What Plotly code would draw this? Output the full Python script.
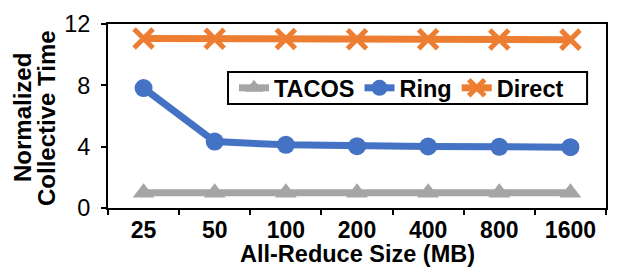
import plotly.graph_objects as go

sizes = ["25", "50", "100", "200", "400", "800", "1600"]
tacos = [1.0, 1.0, 1.0, 1.0, 1.0, 1.0, 1.0]
ring = [7.82, 4.33, 4.12, 4.03, 4.01, 3.99, 3.97]
direct = [11.05, 11.04, 11.02, 11.0, 11.0, 10.99, 10.98]

x_title = "All-Reduce Size (MB)"
y_title_lines = ["Normalized", "Collective Time"]

FAM = "Liberation Sans, Arial"
FS = 23.5

fig = go.Figure()
fig.add_trace(go.Scatter(x=sizes, y=tacos, name="<b>TACOS</b>", mode="lines+markers",
                         line=dict(color="#A5A5A5", width=7),
                         marker=dict(symbol="triangle-up", size=19, color="#A5A5A5")))
fig.add_trace(go.Scatter(x=sizes, y=ring, name="<b>Ring</b>", mode="lines+markers",
                         line=dict(color="#4472C4", width=7),
                         marker=dict(symbol="circle", size=18, color="#4472C4")))
fig.add_trace(go.Scatter(x=sizes, y=direct, name="<b>Direct</b>", mode="lines+markers",
                         line=dict(color="#ED7D31", width=7),
                         marker=dict(symbol="x-thin", size=19, color="#ED7D31",
                                     line=dict(color="#ED7D31", width=5))))

annotations = [
    dict(text=f"<b>{x_title}</b>", xref="paper", yref="paper", x=0.5, y=0,
         yshift=-61, xanchor="center", yanchor="bottom", showarrow=False,
         font=dict(family=FAM, size=23.5, color="black")),
    dict(text=f"<b>{y_title_lines[0]}</b>", xref="paper", yref="paper", x=0, y=0.5,
         xshift=-86, yshift=-2, xanchor="center", yanchor="middle", showarrow=False,
         textangle=-90, font=dict(family=FAM, size=24, color="black")),
    dict(text=f"<b>{y_title_lines[1]}</b>", xref="paper", yref="paper", x=0, y=0.5,
         xshift=-62, yshift=-2, xanchor="center", yanchor="middle", showarrow=False,
         textangle=-90, font=dict(family=FAM, size=24, color="black")),
]

fig.update_layout(
    width=623, height=270,
    margin=dict(l=100, r=25, t=16, b=70),
    paper_bgcolor="white", plot_bgcolor="white",
    font=dict(family=FAM, size=FS, color="black"),
    showlegend=True,
    legend=dict(orientation="h", x=0.253, y=0.652, xanchor="left", yanchor="middle",
                borderwidth=0, bgcolor="rgba(0,0,0,0)",
                font=dict(family=FAM, size=FS, color="black"),
                itemwidth=30, tracegroupgap=0),
    annotations=annotations,
    shapes=[dict(type="rect", xref="paper", yref="paper",
                 x0=0.241, x1=0.962, y0=0.565, y1=0.739,
                 line=dict(color="black", width=2), fillcolor="white", layer="below")],
)
fig.update_xaxes(
    type="category", range=[-0.5, 6.5], automargin=False,
    showline=True, linecolor="black", linewidth=2, mirror=True,
    ticks="outside", tickson="boundaries", ticklen=5, tickcolor="black", tickwidth=2,
    tickfont=dict(family=FAM, size=23, color="black"),
    tickprefix="<b>", ticksuffix="</b>", ticklabelstandoff=0,
    showgrid=False,
)
fig.update_yaxes(
    range=[0, 12], tickvals=[0, 4, 8, 12], automargin=False,
    showline=True, linecolor="black", linewidth=2, mirror=True,
    ticks="outside", ticklen=5, tickcolor="black", tickwidth=2,
    tickfont=dict(family=FAM, size=FS, color="black"),
    tickprefix="<b>", ticksuffix="</b>", ticklabelstandoff=6,
    showgrid=False, zeroline=False,
)

fig.write_html("out.html")
